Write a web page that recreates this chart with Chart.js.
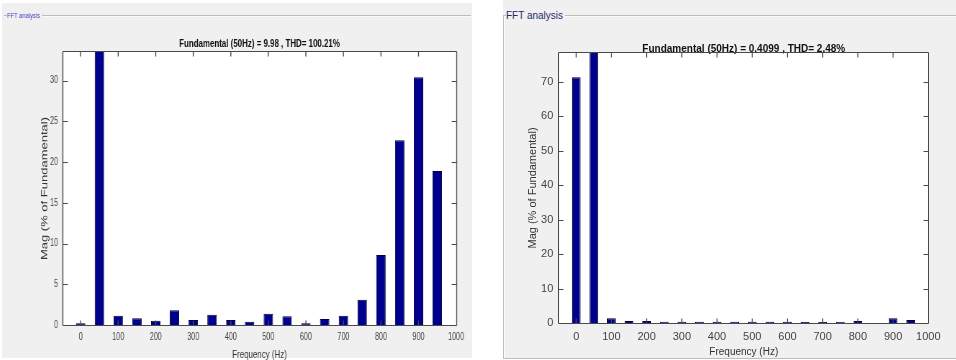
<!DOCTYPE html>
<html>
<head>
<meta charset="utf-8">
<script src="https://cdn.jsdelivr.net/npm/chart.js@4/dist/chart.umd.min.js"></script>
<style>
  html, body { margin: 0; padding: 0; background: #fff; width: 956px; height: 360px; overflow: hidden;
    font-family: Arial, "Liberation Sans", Helvetica, sans-serif; }
  .abs { position: absolute; }
  .panel { background: #f0f0f0; }
  .edge { background: #bdbdbd; }
  .hi { background: #fbfbfb; }
  .grp { white-space: nowrap; transform-origin: 0 0; }
  canvas { position: absolute; top: 0; }
</style>
</head>
<body>
<!-- left group box -->
<div class="abs panel" style="left:2px;top:3px;width:470px;height:355px"></div>
<div class="abs edge" style="left:4px;top:15px;width:3px;height:1px"></div>
<div class="abs edge" style="left:42px;top:15px;width:429px;height:1px"></div>
<div class="abs hi" style="left:42px;top:16px;width:429px;height:1px"></div>
<div class="abs grp" style="left:7px;top:11px;font-size:8px;line-height:9px;color:#4646c0;transform:scaleX(0.72)">FFT analysis</div>

<!-- right group box -->
<div class="abs panel" style="left:503px;top:0px;width:453px;height:358px"></div>
<div class="abs edge" style="left:503px;top:15px;width:3px;height:1px"></div>
<div class="abs edge" style="left:565px;top:15px;width:391px;height:1px"></div>
<div class="abs hi" style="left:565px;top:16px;width:391px;height:1px"></div>
<div class="abs edge" style="left:503px;top:15px;width:1px;height:344px"></div>
<div class="abs hi" style="left:504px;top:16px;width:1px;height:342px"></div>
<div class="abs edge" style="left:503px;top:358px;width:453px;height:1px"></div>
<div class="abs grp" style="left:506px;top:10px;font-size:10px;line-height:12px;color:#1f2a6c">FFT analysis</div>

<canvas id="fftA" width="653" height="365" style="left:2px;transform:scaleX(0.72);transform-origin:0 0"></canvas>
<canvas id="fftB" width="453" height="360" style="left:503px"></canvas>

<script>
// Harmonic frequencies (Hz)
const freqHz = [0, 50, 100, 150, 200, 250, 300, 350, 400, 450, 500, 550, 600, 650, 700, 750, 800, 850, 900, 950];
const xTicksHz = [0, 100, 200, 300, 400, 500, 600, 700, 800, 900, 1000];

// Case A: magnitude in % of fundamental
const magA = [0.2, 100, 1.15, 0.82, 0.53, 1.8, 0.62, 1.27, 0.62, 0.41, 1.39, 1.07, 0.2, 0.74, 1.15, 3.11, 8.6, 22.67, 30.4, 18.9];
const titleA = 'Fundamental (50Hz) = 9.98 , THD= 100.21%';
const yTicksA = [0, 5, 10, 15, 20, 25, 30];

// Case B: magnitude in % of fundamental
const magB = [71.3, 100, 1.45, 0.7, 0.7, 0.45, 0.45, 0.45, 0.45, 0.42, 0.42, 0.42, 0.42, 0.38, 0.38, 0.4, 0.7, 0, 1.45, 0.97];
const titleB = 'Fundamental (50Hz) = 0.4099 , THD= 2.48%';
const yTicksB = [0, 10, 20, 30, 40, 50, 60, 70];

const xLabel = 'Frequency (Hz)';
const yLabel = 'Mag (% of Fundamental)';

Chart.defaults.font.family = 'Arial, "Liberation Sans", Helvetica, sans-serif';
Chart.defaults.animation = false;

// White plot background
const plotBg = {
  id: 'plotBg',
  beforeDraw(chart) {
    const a = chart.chartArea, ctx = chart.ctx;
    ctx.save();
    ctx.fillStyle = '#ffffff';
    ctx.fillRect(a.left, a.top, a.right - a.left, a.bottom - a.top);
    ctx.restore();
  }
};

// Boxed axes (drawn just outside the plot area) with inward tick marks on all four sides
const axisBox = {
  id: 'axisBox',
  afterDatasetsDraw(chart, args, o) {
    const {ctx, chartArea: a, scales: {x, y}} = chart;
    const L = Math.round(a.left) - 0.5, R = Math.round(a.right) + 0.5;
    const T = Math.round(a.top) - 0.5, B = Math.round(a.bottom) + 0.5;
    ctx.save();
    ctx.strokeStyle = o.color;
    // horizontal strokes
    ctx.lineWidth = 1;
    ctx.beginPath();
    ctx.moveTo(L, T); ctx.lineTo(R, T);
    ctx.moveTo(L, B); ctx.lineTo(R, B);
    y.ticks.forEach(t => {
      const py = Math.round(y.getPixelForValue(t.value)) + 0.5;
      if (py < T + 1 || py > B - 1) return;
      ctx.moveTo(L, py); ctx.lineTo(L + o.yLen, py);
      ctx.moveTo(R, py); ctx.lineTo(R - o.yLen, py);
    });
    ctx.stroke();
    // vertical strokes
    ctx.lineWidth = o.vw;
    ctx.beginPath();
    ctx.moveTo(L, T); ctx.lineTo(L, B);
    ctx.moveTo(R, T); ctx.lineTo(R, B);
    x.ticks.forEach(t => {
      const px = x.getPixelForValue(t.value);
      if (px < L + 1 || px > R - 1) return;
      ctx.moveTo(px, B); ctx.lineTo(px, B - o.xLen);
      ctx.moveTo(px, T); ctx.lineTo(px, T + o.xLen);
    });
    ctx.stroke();
    ctx.restore();
  }
};

function fftChart(id, s) {
  return new Chart(document.getElementById(id), {
    type: 'bar',
    data: {
      datasets: [{
        data: freqHz.map((f, i) => ({x: f, y: s.mag[i]})),
        backgroundColor: '#00008e',
        borderColor: '#00003c',
        borderWidth: 1,
        barPercentage: 0.5,
        categoryPercentage: 1,
        clip: 0
      }]
    },
    options: {
      responsive: false,
      devicePixelRatio: 1,
      animation: false,
      layout: { padding: s.pad },
      plugins: {
        legend: { display: false },
        tooltip: { enabled: false },
        title: {
          display: true, text: s.title, fullSize: false, color: '#111',
          font: { size: s.titleSize, weight: 'bold', lineHeight: s.titleLH },
          padding: 0
        },
        axisBox: { color: '#4a4a4a', vw: s.vw, xLen: 5, yLen: s.yLen }
      },
      scales: {
        x: {
          type: 'linear', min: s.xMin, max: 1000, offset: false,
          grid: { display: false, drawTicks: false }, border: { display: false },
          afterBuildTicks: sc => { sc.ticks = xTicksHz.map(v => ({value: v})); },
          ticks: { padding: s.xTickPad, color: '#444', font: { size: s.tickSize }, maxRotation: 0, autoSkip: false,
                   callback: v => String(v) },
          title: { display: true, text: xLabel, color: '#333', padding: 0, font: { size: s.xLabelSize, lineHeight: 1.2 } },
          afterFit: sc => { sc.height = s.xH; }
        },
        y: {
          min: 0, max: s.yMax,
          grid: { display: false, drawTicks: false }, border: { display: false },
          afterBuildTicks: sc => { sc.ticks = s.yTicks.map(v => ({value: v})); },
          ticks: { padding: s.yTickPad, color: '#444', font: { size: s.tickSize }, callback: v => String(v) },
          title: { display: true, text: yLabel, color: '#333', padding: 0, font: { size: s.yLabelSize, lineHeight: 1.2 } },
          afterFit: sc => { sc.width = s.yW; }
        }
      }
    },
    plugins: [plotBg, axisBox]
  });
}

// Case A (drawn on a horizontally condensed canvas)
fftChart('fftA', {
  mag: magA, title: titleA, yTicks: yTicksA, yMax: 33.5, xMin: -47,
  pad: { left: 51.9, top: 36, right: 22.4, bottom: 3.4 },
  titleSize: 11, titleLH: 16 / 11,
  tickSize: 10, xLabelSize: 11, yLabelSize: 13,
  xTickPad: 6, yTickPad: 6.9, xH: 36.6, yW: 32.8,
  vw: 1.39, yLen: 7
});

// Case B
fftChart('fftB', {
  mag: magB, title: titleB, yTicks: yTicksB, yMax: 78.4, xMin: -48,
  pad: { left: 23.4, top: 45.35, right: 27.7, bottom: 1.5 },
  titleSize: 10, titleLH: 0.73,
  tickSize: 11, xLabelSize: 10, yLabelSize: 11,
  xTickPad: 7.1, yTickPad: 6, xH: 35.2, yW: 32.9,
  vw: 1, yLen: 5
});
</script>
</body>
</html>
